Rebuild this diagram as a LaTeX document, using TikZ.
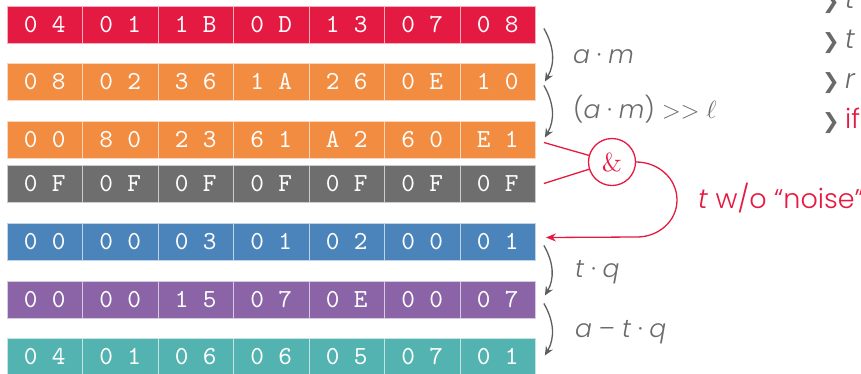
\documentclass[tikz,border=0pt]{standalone}
\usepackage{fontspec}
\setmainfont{Poppins}[UprightFont=* Light, ItalicFont=* Light Italic]
\newfontfamily\symfont{DejaVu Sans}
\newfontfamily\lmfont{lmroman10-regular}[Extension=.otf]
\newfontfamily\lmtt{lmmono10-regular}[Extension=.otf]
\usetikzlibrary{arrows.meta}
\definecolor{cred}{HTML}{E51A42}
\definecolor{corange}{HTML}{F28C40}
\definecolor{cgray}{HTML}{6E6E6E}
\definecolor{cblue}{HTML}{4A84BB}
\definecolor{cpurple}{HTML}{8A64A6}
\definecolor{cteal}{HTML}{53B3B0}
\definecolor{ctext}{HTML}{6A6A6C}
\definecolor{carrow}{HTML}{5E5E5E}
\tikzset{
  cell/.style={draw=white!65!#1, fill=#1, line width=0.8pt, minimum width=75.5pt,
    minimum height=37pt, inner sep=0pt, text=white,
    font=\lmtt\fontsize{26}{26}\selectfont},
  garrow/.style={draw=carrow, line width=1.3pt, -{Stealth[length=9pt,width=8pt]}},
  redline/.style={draw=cred, line width=1.3pt},
  redarrow/.style={redline, -{Stealth[length=10pt,width=8pt]}},
  lbl/.style={text=ctext, font=\fontsize{25}{25}\selectfont, inner sep=0pt, anchor=base west},
  item/.style={font=\fontsize{27}{27}\selectfont, inner sep=0pt, anchor=base west},
  chev/.style={text=ctext, font=\symfont\fontsize{21}{21}\selectfont, inner sep=0pt, anchor=base west},
}
\begin{document}
\begin{tikzpicture}[x=1pt,y=1pt]
\useasboundingbox (0,0) rectangle (861,-373);
\clip (0,0) rectangle (861,-373);
\foreach \r/\top/\col/\vals in {
  1/6/cred/{0/4,0/1,1/B,0/D,1/3,0/7,0/8},
  2/63/corange/{0/8,0/2,3/6,1/A,2/6,0/E,1/0},
  3/121/corange/{0/0,8/0,2/3,6/1,A/2,6/0,E/1},
  4/165/cgray/{0/F,0/F,0/F,0/F,0/F,0/F,0/F},
  5/223/cblue/{0/0,0/0,0/3,0/1,0/2,0/0,0/1},
  6/281/cpurple/{0/0,0/0,1/5,0/7,0/E,0/0,0/7},
  7/338/cteal/{0/4,0/1,0/6,0/6,0/5,0/7,0/1}} {
  \foreach \a/\b [count=\c] in \vals {
    \node[cell=\col] (r\r c\c) at ({7+75.5*(\c-0.5)},{-\top-18.5})
      {\raisebox{-2pt}{\a\hspace{14.5pt}\b}};
  }
}
% gray arrows
\draw[garrow] ([xshift=8pt,yshift=-4pt]r1c7.east) to[out=-60,in=60] ([xshift=9pt,yshift=0pt]r2c7.east);
\draw[garrow] ([xshift=8pt,yshift=-4pt]r2c7.east) to[out=-60,in=60] ([xshift=9pt,yshift=2pt]r3c7.east);
\draw[garrow] ([xshift=8pt,yshift=-4pt]r5c7.east) to[out=-60,in=60] ([xshift=9pt,yshift=4pt]r6c7.east);
\draw[garrow] ([xshift=8pt,yshift=-4pt]r6c7.east) to[out=-60,in=60] ([xshift=9pt,yshift=1pt]r7c7.east);
% labels
\node[lbl] (l1) at (573,-63) {\textit{a} · \textit{m}};
\node[lbl] (l2) at (573,-118) {(\textit{a} · \textit{m}) $>>$ $\ell$};
\node[lbl] (l3) at (575,-277) {\textit{t} · \textit{q}};
\node[lbl] (l4) at (575,-337) {\textit{a} – \textit{t} · \textit{q}};
% red part
\node[circle, draw=cred, line width=1.3pt, minimum size=47pt, inner sep=0pt, text=cred,
  font=\lmfont\fontsize{26}{26}\selectfont] (amp) at (612,-162) {\&};
\draw[redline] ([xshift=8pt,yshift=-3pt]r3c7.east) -- (amp);
\draw[redline] ([xshift=8pt]r4c7.east) -- (amp);
\coordinate (turn) at (677,-200);
\coordinate (bot) at (637,-237);
\draw[redarrow] (amp.east) to[out=0,in=90] (turn) to[out=-90,in=0] (bot) -- ([xshift=10pt,yshift=4pt]r5c7.east);
\node[item, text=cred] (noise) at (698,-208) {\textit{t} w/o “noise”};
% right list
\node[chev] (c0) at (822,-8) {❯};
\node[item, text=ctext] (i0) at (845,-8) {\textit{t}};
\node[chev] (c1) at (822,-48) {❯};
\node[item, text=ctext] (i1) at (845,-48) {\textit{t}};
\node[chev] (c2) at (822,-88) {❯};
\node[item, text=ctext] (i2) at (845,-88) {\textit{r}};
\node[chev] (c3) at (822,-128) {❯};
\node[item, text=cred] (i3) at (845,-128) {if};
\end{tikzpicture}
\end{document}
